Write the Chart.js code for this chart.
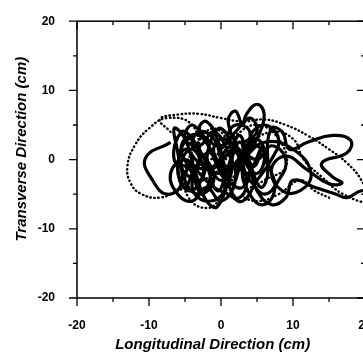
<!DOCTYPE html>
<html>
<head>
<meta charset="UTF-8">
<script src="https://cdn.jsdelivr.net/npm/chart.js"></script>
<style>
  html, body { margin: 0; padding: 0; background: #fff; overflow: hidden; }
  #wrap { width: 400px; height: 354px; }
</style>
</head>
<body>
<div id="wrap"><canvas id="orbit" width="400" height="354"></canvas></div>
<script>
// Axis ticks
const xTicks = [-20, -10, 0, 10, 20];
const yTicks = [-20, -10, 0, 10, 20];

// Solid trace (cm)
const solidX = [-7, -10.5, -9.5, -7.5, -5.5, -6, -6.5, -5, -3.5, -2, -0.5, 0.5, -1.5, -3, -2, -0.5, 0.5, 2, 3.5, 2.5,
  1, 2, 3, 3.5, 5, 6, 5, 3, 4, 6, 7.5, 6.5, 7, 8.5, 9.5, 12, 15.5, 18, 17.5, 14,
  15.5, 16.8, 15, 12, 9, 7, 8.5, 11, 12.5, 10, 6, 3, 0, -3, -5, -6, -4.5, -2.5, -1.5, 0,
  1.5, 0.5, -2, -4, -3, -4, -5.5, -6.5, -4.5, -1, 2, 4, 5, 7, 9, 10, 13, 16, 17.5, 19.5, 21];
const solidY = [2.5, 0.2, -3, -5, -3.5, 1, 4.5, 3, -2, -6, -6.8, -3, 1.5, 4.5, 5.5, 3, -1, -5.5, -4, 1,
  5.5, 7, 5, 6.5, 8, 6.5, 3, -1, -5, -6.5, -4, 0, 4.5, 4, 1.5, 2.5, 3.5, 2.8, 1, -0.5,
  -2.5, -3.4, -3.5, -1.5, 0.5, -1.5, -4.5, -4.5, -2, 1.5, 2.5, 0, -2, -0.5, 1.5, -1.5, -4.5, -2.5, 2.5, 4.5,
  1, -4.5, -6, -4, 0, 3, 4, 0, -1, -1, 1.5, -1.5, -4.5, -6.5, -5.5, -3, -4, -5, -5.5, -4.5, -5];

// Solid trace, dense core part (cm)
const coreX = [-4, -5, -3, -1, -2, -4, -3, -1, 0, 1, 3, 4, 2, 0, -1, 1, 3, 4, 2, 1,
  3, 5, 6, 4, 6, 8, 7, 5, 3, 1, -1, -3, -5, -7, -6, -4, -2, 0, 2, 1,
  -1, -3, -5, -4, -2, 0, 2, 4, 5, 3, 5, 7, 9, 8, 6, 4, 2, 0, -2, -3,
  -5.5, -4, -1.5, 1.5, 3.5, 5.5, 4.5, 2.5, 0.5, -1.5, -3.5, -5, -6, -4.5, -2.5, -0.5, 1, 2.5, 4, 5.5,
  6.5, 5, 3, 1.5, -0.5, -2.5, -4, -5.5, -3, 0];
const coreY = [0, -3, -5, -3, 0, 2, 4, 3, 0, -3, -4, -1, 2, 3, 1, -1, 1, 4, 5, 3,
  0, -2, 1, 3, 5, 3, 0, -3, -6, -5, -4, -2, 0, -2, -5, -6, -4, -6, -3, 1,
  4, 2, 3, 5, 3, 2, 4, 6, 4, 2, 0, 2, 0, -3, -5, -3, -1, -3, -1, -3,
  -1, 1.5, -1.5, 2, -2, 1.5, -1, 2.5, -2.5, 1, -1, -4, -1, 3, 0.5, -4.5, -1, 3.5, -0.5, -4,
  -1.5, 3, 0, -3.5, -0.5, -5, -2, 2, 3.5, -2];

// Dotted trace (cm)
const dottedX = [-7, -8.5, -6, -3, 0, 3, 6, 9, 12, 15, 17.5, 19.5, 20.5, 17, 14, 11.5, 10, 7, 4, 2,
  0, -2, -4.5, -5, -3.5, -1, 1, 0, -2.5, -6, -8.5, -11, -12.5, -13, -12, -10, -7.5, -4, -2, 2,
  5, 8, 9, 6, 3, 5, 8, 11, 13, 15];
const dottedY = [4, 5.8, 6.5, 6.6, 6, 5.5, 5.8, 5, 3.5, 1.5, -0.5, -3, -6, -5, -2.5, 0, 3, 4, 2, -2,
  -5.5, -7, -5.5, -2, 2, 4.5, 2, -1, -3, -4.5, -5.5, -5, -3.5, -1, 2, 4.5, 6, 5, 0, 3.5,
  5, 3, -1, -3, -5, -6, -5, -3, -4.5, -5.5];

const toPoints = (xs, ys) => xs.map((x, i) => ({ x: x, y: ys[i] }));

const tickFont = { family: 'Liberation Sans, Arial, sans-serif', size: 12, weight: 'bold' };
const titleFont = { family: 'Liberation Sans, Arial, sans-serif', size: 15, weight: 'bold', style: 'italic' };

// frame + tick marks (outward on bottom/left, mirrored inward on top/right)
const framePlugin = {
  id: 'frame',
  afterDraw(chart) {
    const { ctx, chartArea: a, scales } = chart;
    ctx.save();
    ctx.strokeStyle = '#000';
    ctx.lineWidth = 1.5;
    ctx.strokeRect(a.left, a.top, a.right - a.left, a.bottom - a.top);
    ctx.lineWidth = 1.3;
    ctx.beginPath();
    for (let v = -20; v <= 20; v += 5) {
      const len = v % 10 === 0 ? 8 : 4;
      const px = scales.x.getPixelForValue(v);
      const py = scales.y.getPixelForValue(v);
      ctx.moveTo(px, a.bottom); ctx.lineTo(px, a.bottom + len);
      ctx.moveTo(px, a.top); ctx.lineTo(px, a.top + len);
      ctx.moveTo(a.left - len, py); ctx.lineTo(a.left, py);
      ctx.moveTo(a.right - len, py); ctx.lineTo(a.right, py);
    }
    ctx.stroke();
    ctx.restore();
  }
};

const solidStyle = { showLine: true, borderColor: '#000', borderWidth: 3.2, tension: 0.45, pointRadius: 0 };

new Chart(document.getElementById('orbit'), {
  type: 'scatter',
  data: {
    datasets: [
      {
        data: toPoints(dottedX, dottedY),
        showLine: true,
        borderColor: '#000',
        borderWidth: 2.4,
        borderDash: [0.5, 3.5],
        borderCapStyle: 'round',
        tension: 0.45,
        pointRadius: 0
      },
      Object.assign({ data: toPoints(solidX, solidY) }, solidStyle),
      Object.assign({ data: toPoints(coreX, coreY) }, solidStyle)
    ]
  },
  options: {
    responsive: false,
    animation: false,
    layout: { padding: { left: 0, top: 14, right: 35, bottom: 0 } },
    plugins: { legend: { display: false }, tooltip: { enabled: false } },
    scales: {
      x: {
        type: 'linear',
        min: -20, max: 20,
        afterBuildTicks: s => { s.ticks = xTicks.map(v => ({ value: v })); },
        afterFit: s => { s.height = 56; },
        grid: { display: false },
        border: { display: false },
        ticks: { font: tickFont, color: '#000', padding: 12, maxRotation: 0 },
        // trailing spaces nudge the centred title a little left, as in the original
        title: { display: true, text: 'Longitudinal Direction (cm)    ', font: titleFont, color: '#000', padding: { bottom: 0 } }
      },
      y: {
        type: 'linear',
        min: -20, max: 20,
        afterBuildTicks: s => { s.ticks = yTicks.map(v => ({ value: v })); },
        afterFit: s => { s.width = 77; },
        grid: { display: false },
        border: { display: false },
        ticks: { font: tickFont, color: '#000', padding: 14 },
        title: { display: true, text: '     Transverse Direction (cm)', font: titleFont, color: '#000', padding: { top: 13 } }
      }
    }
  },
  plugins: [framePlugin]
});
</script>
</body>
</html>
